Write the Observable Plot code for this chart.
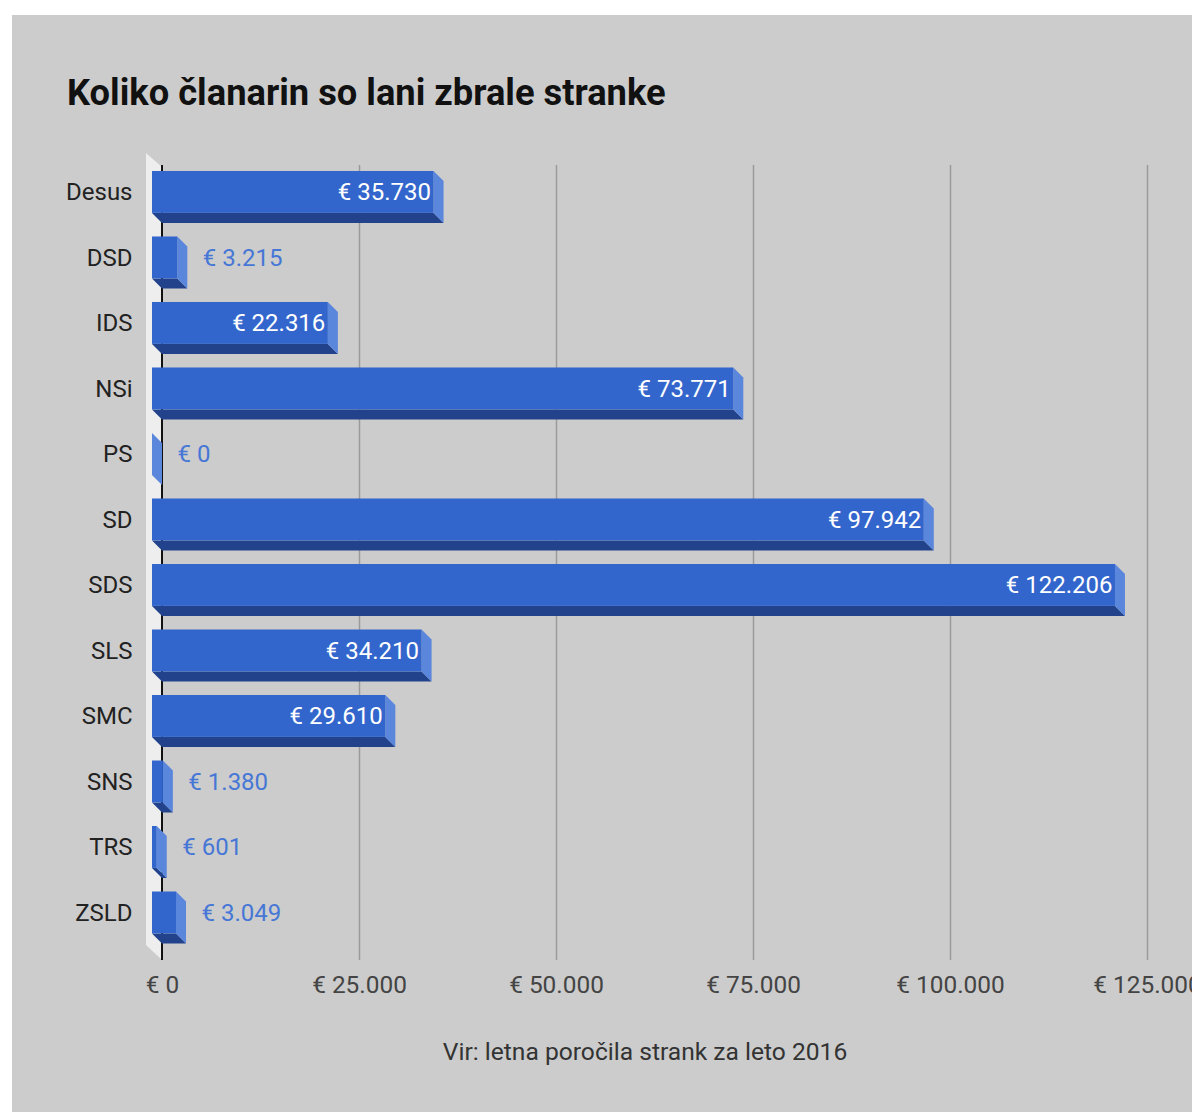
<!DOCTYPE html>
<html>
<head>
<meta charset="utf-8">
<script src="https://cdn.jsdelivr.net/npm/d3@7"></script>
<script src="https://cdn.jsdelivr.net/npm/@observablehq/plot@0.6"></script>
<style>
  html, body { margin: 0; padding: 0; background: #ffffff; overflow: hidden; }
  #wrap { position: relative; width: 1192px; height: 1112px; overflow: hidden; font-family: Roboto, sans-serif; }
  #bg { position: absolute; left: 12px; top: 15px; right: 0; bottom: 0; background: #cccccc; }
  #title { position: absolute; left: 67px; top: 75px; font-size: 36.3px; line-height: 36px; font-weight: bold; color: #111; white-space: nowrap; }
  #chart { position: absolute; left: 0; top: 130px; }
  #caption { position: absolute; left: 0; width: 1290px; top: 1040px; text-align: center; font-size: 24.6px; line-height: 24px; color: #333; white-space: nowrap; }
</style>
</head>
<body>
<div id="wrap">
  <div id="bg"></div>
  <div id="title">Koliko članarin so lani zbrale stranke</div>
  <div id="chart"></div>
  <div id="caption">Vir: letna poročila strank za leto 2016</div>
</div>
<script>
const parties = ["Desus", "DSD", "IDS", "NSi", "PS", "SD", "SDS", "SLS", "SMC", "SNS", "TRS", "ZSLD"];
const fees = [35730, 3215, 22316, 73771, 0, 97942, 122206, 34210, 29610, 1380, 601, 3049];
const xTicks = [0, 25000, 50000, 75000, 100000, 125000];

const data = parties.map((p, i) => ({party: p, value: fees[i]}));

const loc = d3.formatLocale({decimal: ",", thousands: ".", grouping: [3], currency: ["€ ", ""]});
const euro = loc.format("$,.0f");

const DEPTH = 10;
const FRONT = "#3366cc", SIDE = "#5a86dc", BOTTOM = "#22438c";

function wall(index, scales, values, dim) {
  const g = d3.create("svg:g");
  const x0 = scales.x(0);
  const top = dim.marginTop, bottom = dim.height - dim.marginBottom;
  g.append("polygon")
    .attr("points", [[x0 - 16, top - 12], [x0, top + 2], [x0, bottom], [x0 - 16, bottom - 15]].map(p => p.join(",")).join(" "))
    .attr("fill", "#eeeeee");
  g.append("line")
    .attr("x1", x0).attr("x2", x0).attr("y1", top).attr("y2", bottom)
    .attr("stroke", "#111").attr("stroke-width", 2);
  return g.node();
}

function bars3d(index, scales, values, dim) {
  const g = d3.create("svg:g");
  const bw = scales.y.bandwidth();
  const d = DEPTH;
  const pts = a => a.map(p => p.join(",")).join(" ");
  for (const row of data) {
    const xl = scales.x(0), xr = scales.x(row.value);
    const yt = scales.y(row.party), yb = yt + bw;
    g.append("polygon").attr("points", pts([[xl - d, yb - d], [xr - d, yb - d], [xr, yb], [xl, yb]])).attr("fill", BOTTOM);
    g.append("polygon").attr("points", pts([[xr - d, yt - d], [xr, yt], [xr, yb], [xr - d, yb - d]])).attr("fill", SIDE);
    g.append("rect").attr("x", xl - d).attr("y", yt - d).attr("width", Math.max(0, xr - xl)).attr("height", bw).attr("fill", FRONT);
  }
  return g.node();
}

const inside = data.filter(d => d.value > 10000);
const outside = data.filter(d => d.value <= 10000);

const chart = Plot.plot({
  width: 1192,
  height: 880,
  marginLeft: 162,
  marginRight: 45,
  marginTop: 35,
  marginBottom: 50,
  style: {fontFamily: "Roboto, sans-serif", fontSize: "24px", background: "transparent", overflow: "visible"},
  x: {domain: [0, 125000], axis: null},
  y: {type: "band", domain: parties, range: [27.4, 837], padding: 0.36, round: false, axis: null},
  marks: [
    Plot.ruleX(xTicks.slice(1), {x: d => d, stroke: "#9a9a9a", strokeWidth: 1.5, strokeOpacity: 1}),
    wall,
    bars3d,
    Plot.text(parties, {x: () => 0, y: d => d, text: d => d, dx: -30, dy: -10, textAnchor: "end", fill: "#222", fontSize: 24}),
    Plot.text(inside, {x: "value", y: "party", text: d => euro(d.value), dx: -13, dy: -10, textAnchor: "end", fill: "#ffffff", fontSize: 24}),
    Plot.text(outside, {x: "value", y: "party", text: d => euro(d.value), dx: 15, dy: -10, textAnchor: "start", fill: "#4677d6", fontSize: 24}),
    Plot.text(xTicks, {x: d => d, frameAnchor: "bottom", text: d => euro(d), lineAnchor: "top", dy: 15, fill: "#444", fontSize: 24.4})
  ]
});
document.getElementById("chart").appendChild(chart);
</script>
</body>
</html>
